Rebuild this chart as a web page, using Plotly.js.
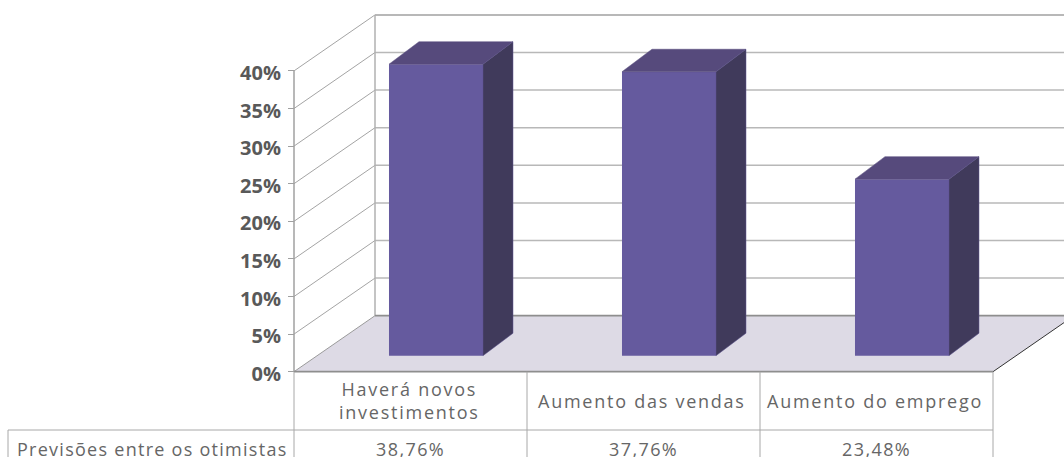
<!DOCTYPE html>
<html><head><meta charset="utf-8">
<script src="https://cdn.plot.ly/plotly-3.0.1.min.js"></script>
<style>
html,body{margin:0;padding:0;background:#fff;overflow:hidden}
#chart{width:1064px;height:457px}
</style></head><body><div id="chart"></div>
<script>
const categories = ['Haverá novos<br>investimentos', 'Aumento das vendas', 'Aumento do emprego'];
const seriesName = 'Previsões entre os otimistas';
const values = [38.76, 37.76, 23.48];
const tickValues = [0, 5, 10, 15, 20, 25, 30, 35, 40];
const tickLabels = ['0%', '5%', '10%', '15%', '20%', '25%', '30%', '35%', '40%'];

// page geometry expressed through the axes
const W = 1064, H = 457;
const catPx = 233, leftPx = 294, zeroPx = 371.7, unitPx = 7.52;
const xRange = [-0.5 - leftPx / catPx, -0.5 + (W - leftPx) / catPx];
const yRange = [(zeroPx - H) / unitPx, zeroPx / unitPx];
const wallDX = 81 / catPx, wallDY = 56 / unitPx;
const barDX = 30 / catPx, barDY = 22.5 / unitPx;
const barW = 94 / catPx, barShift = 0.1094, barBase = (zeroPx - 355.7) / unitPx;
const tableRowY = (zeroPx - 430) / unitPx, headerLeft = xRange[0] + 8 / catPx;
const xL = -0.5, xR = categories.length - 0.5, yMax = Math.max(...tickValues);

const line = (x0, y0, x1, y1, color, width) => ({
  type: 'line', layer: 'below', xref: 'x', yref: 'y', x0, y0, x1, y1,
  line: {color, width}
});

const shapes = [];
// floor
shapes.push({
  type: 'path', layer: 'below', xref: 'x', yref: 'y',
  path: `M${xL},0 L${xL + wallDX},${wallDY} L${xR + wallDX},${wallDY} L${xR},0 Z`,
  fillcolor: '#DDDAE5', line: {width: 0}
});
// back wall and side wall grid
tickValues.forEach(v => {
  if (v > 0) {
    shapes.push(line(xL + wallDX, v + wallDY, xR + wallDX, v + wallDY, v === yMax ? '#a0a0a0' : '#b8b8b8', 1.5));
    shapes.push(line(xL, v, xL + wallDX, v + wallDY, '#a4a4a4', 1));
  }
});
shapes.push(line(xL + wallDX, wallDY, xL + wallDX, yMax + wallDY, '#b0b0b0', 1.5));
shapes.push(line(xL, 0, xL, yMax, '#a0a0a0', 1.5));
// floor edges
shapes.push(line(xL + wallDX, wallDY, xR + wallDX, wallDY, '#8e8e8e', 1.8));
shapes.push(line(xL, 0, xL + wallDX, wallDY, '#9a9a9a', 1));
shapes.push(line(xR, 0, xR + wallDX, wallDY, '#333333', 1));
shapes.push(line(xL, 0, xR, 0, '#8e8e8e', 1.8));
// data table
for (let i = 0; i <= categories.length; i++) {
  shapes.push(line(xL + i, 0, xL + i, yRange[0], '#a8a8a8', 1));
}
shapes.push(line(headerLeft, tableRowY, xR, tableRowY, '#a8a8a8', 1));
shapes.push(line(headerLeft, tableRowY, headerLeft, yRange[0], '#a8a8a8', 1));

const barX = values.map((_, i) => i + barShift);
const traces = [{
  type: 'bar', x: barX, y: values, base: barBase, width: barW, name: seriesName,
  marker: {color: '#655A9E', line: {width: 0}}, hoverinfo: 'skip', showlegend: false
}];
values.forEach((v, i) => {
  const l = barX[i] - barW / 2, r = barX[i] + barW / 2, top = barBase + v;
  traces.push({
    type: 'scatter', mode: 'lines', fill: 'toself', fillcolor: '#564A7C',
    x: [l, l + barDX, r + barDX, r, l], y: [top, top + barDY, top + barDY, top, top],
    line: {width: 0.5, color: '#564A7C'}, hoverinfo: 'skip', showlegend: false
  });
  traces.push({
    type: 'scatter', mode: 'lines', fill: 'toself', fillcolor: '#403A5B',
    x: [r, r + barDX, r + barDX, r, r], y: [top, top + barDY, barBase + barDY, barBase, top],
    line: {width: 0.5, color: '#5f5590'}, hoverinfo: 'skip', showlegend: false
  });
});

const font = {family: '"Open Sans", sans-serif', size: 18, color: '#666666'};
const spaced = (t, s) => t.split('<br>').map(p => `<span style="letter-spacing:${s}px">${p}</span>`).join('<br>');
const annotations = [];
const catRowY = tableRowY / 2, valRowY = (zeroPx - 449) / unitPx;
categories.forEach((c, i) => {
  annotations.push({xref: 'x', yref: 'y', x: i - 1.5 / catPx, y: catRowY, text: spaced(c, 1.75), showarrow: false, font,
    align: 'center', xanchor: 'center', yanchor: 'middle'});
  annotations.push({xref: 'x', yref: 'y', x: i, y: valRowY,
    text: spaced(values[i].toFixed(2).replace('.', ',') + '%', 1.4), showarrow: false, font,
    xanchor: 'center', yanchor: 'middle'});
});
annotations.push({xref: 'x', yref: 'y', x: xL - 4 / catPx, y: valRowY, text: spaced(seriesName, 1.27), showarrow: false, font,
  xanchor: 'right', yanchor: 'middle'});

const layout = {
  width: W, height: H, margin: {l: 0, r: 0, t: 0, b: 0, pad: 0},
  paper_bgcolor: '#ffffff', plot_bgcolor: 'rgba(0,0,0,0)', showlegend: false,
  xaxis: {range: xRange, visible: false, fixedrange: true},
  yaxis: {
    range: yRange, anchor: 'free', position: leftPx / W, fixedrange: true,
    tickmode: 'array', tickvals: tickValues, ticktext: tickLabels,
    ticks: 'outside', ticklen: 6, tickwidth: 1, tickcolor: '#a0a0a0',
    showgrid: false, zeroline: false, showline: false,
    ticklabelstandoff: 3, ticklabelshift: 2,
    tickfont: {family: '"Open Sans", sans-serif', size: 20, color: '#595959', weight: 700}
  },
  shapes, annotations
};
Plotly.newPlot('chart', traces, layout, {displayModeBar: false, staticPlot: true});
</script></body></html>
